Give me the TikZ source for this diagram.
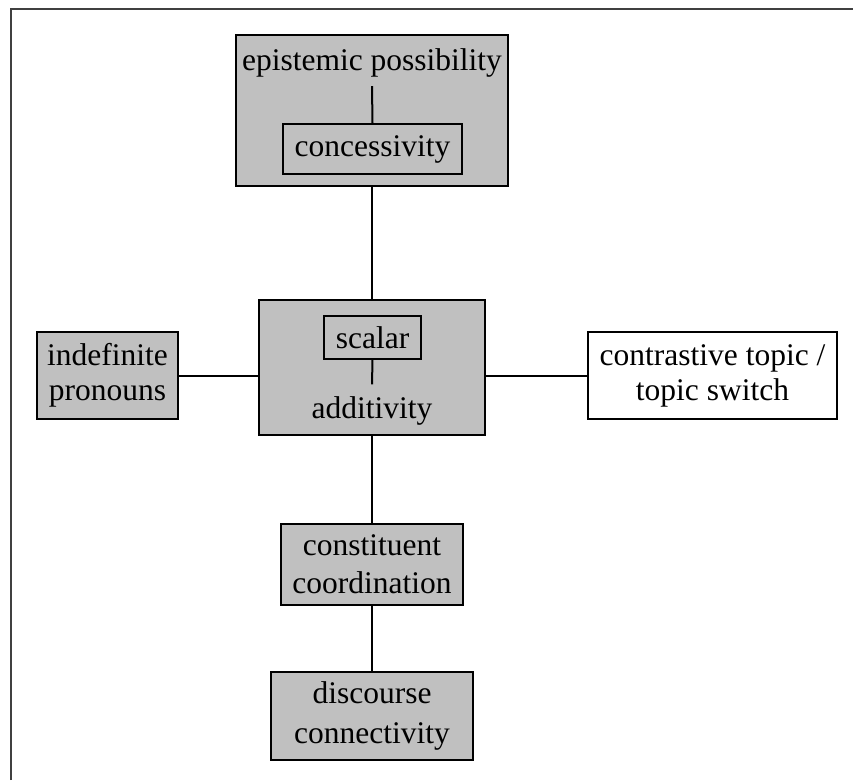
\documentclass[tikz,border=0pt]{standalone}
\usepackage{fontspec}
\setmainfont{Liberation Serif}
\usepackage{xcolor}
\usepackage{tikz}
\definecolor{boxgray}{RGB}{192,192,192}

\tikzset{
  box/.style={draw, line width=1.1pt, fill=boxgray, inner sep=0pt, align=center},
  whitebox/.style={box, fill=white},
  word/.style={inner sep=0pt, anchor=base},
  link/.style={line width=2pt},
  thinlink/.style={line width=1.1pt}
}

\begin{document}
\begin{tikzpicture}[x=1pt, y=-1pt, font=\fontsize{31.5}{35}\selectfont]
            \useasboundingbox (0,0) rectangle (853,780);
            \draw[line width=1.5pt, black!75] (11,780) -- (11,9) -- (853,9);
            \node[box, minimum width=272pt, minimum height=151pt] (epibox) at (372,110.5) {};
            \node[word, inner ysep=9.2pt] (epi) at (372,70) {epistemic possibility};
            \node[box, minimum width=179pt, minimum height=50pt] (conc) at (372.5,149) {concessivity};
            \node[box, minimum width=226pt, minimum height=135pt] (addbox) at (372,367.5) {};
            \node[box, minimum width=97pt, minimum height=43pt] (scalar) at (372.5,337.5) {scalar};
            \node[word, inner ysep=11.5pt] (add) at (372,418) {additivity};
            \node[box, minimum width=141pt, minimum height=87pt] (indef) at (107.5,375.5) {indefinite\\pronouns};
            \node[whitebox, minimum width=249pt, minimum height=87pt] (contr) at (712.5,375.5) {contrastive topic /\\topic switch};
            \node[box, minimum width=182pt, minimum height=81pt] (const) at (372,564.5) {constituent\\[3pt]coordination};
            \node[box, minimum width=202pt, minimum height=88pt] (disc) at (372,716) {discourse\\[5pt]connectivity};
            \draw[link] (epi.south) -- (conc.north);
            \draw[link] (epibox.south) -- (addbox.north);
            \draw[link] (scalar.south) -- (add.north);
            \draw[link] (indef.east) -- (indef.east -| addbox.west);
            \draw[link] (contr.west) -- (contr.west -| addbox.east);
            \draw[thinlink] (addbox.south) -- (const.north);
            \draw[thinlink] (const.south) -- (disc.north);
        \end{tikzpicture}
\end{document}
